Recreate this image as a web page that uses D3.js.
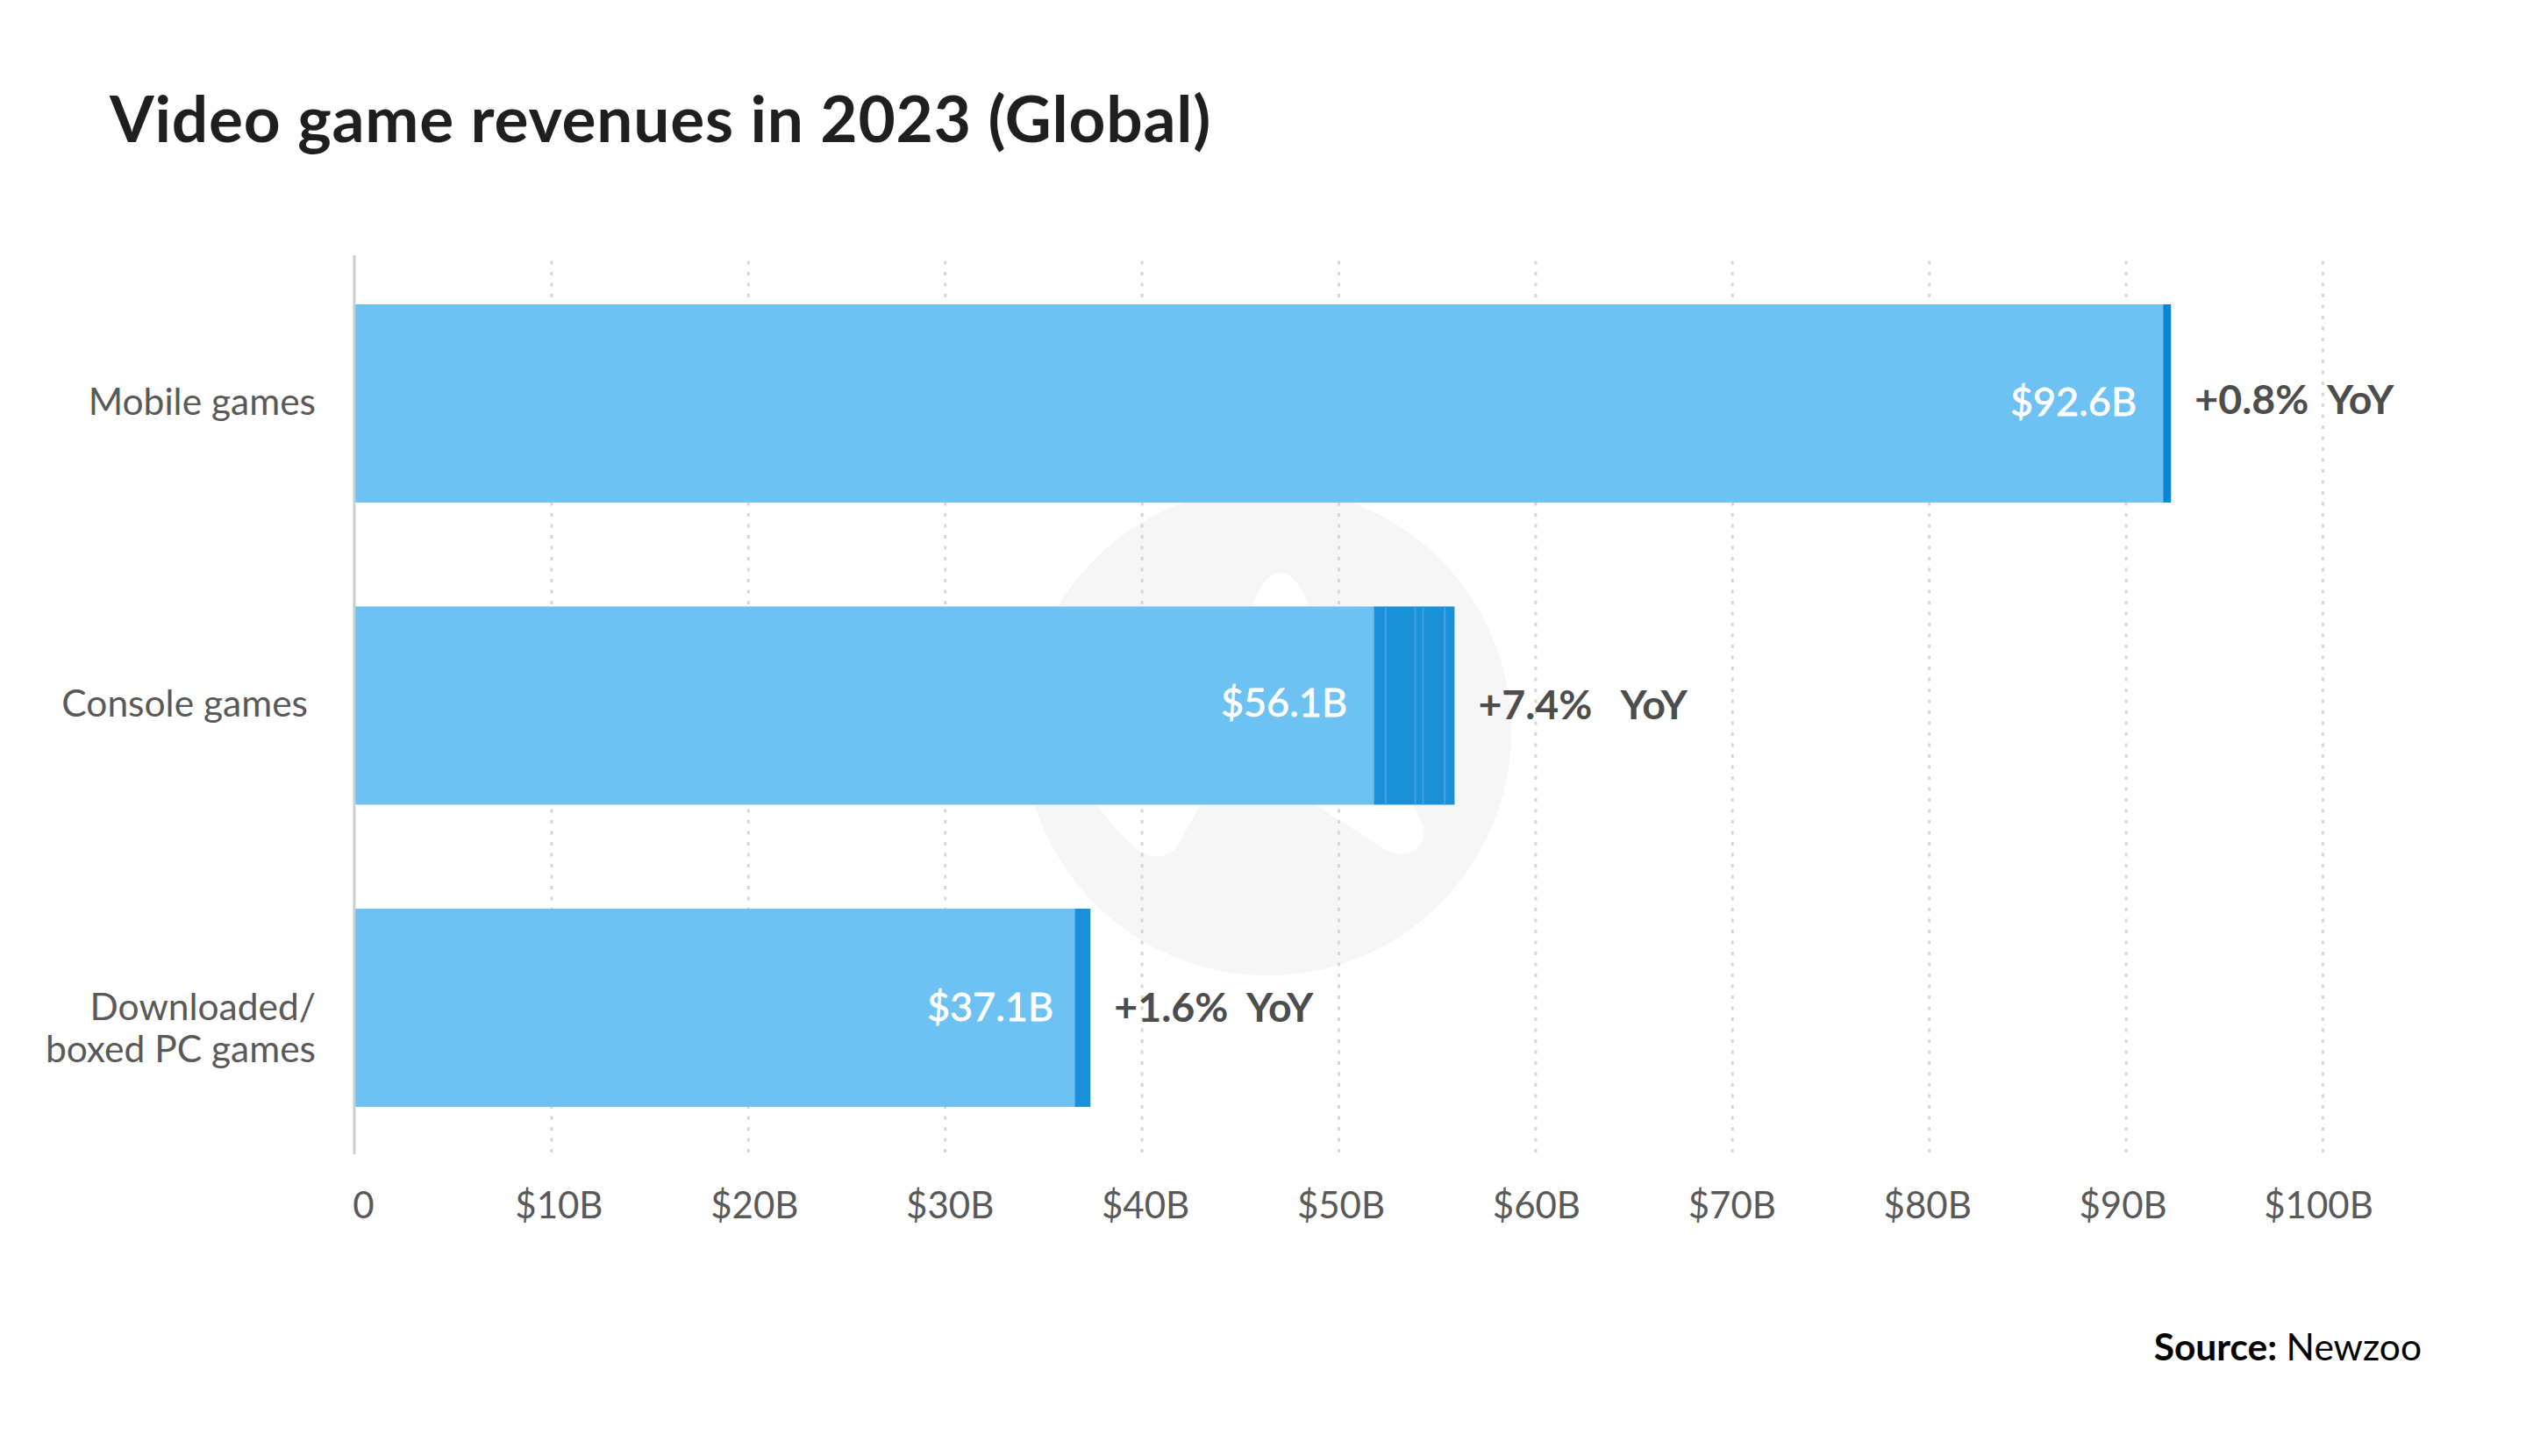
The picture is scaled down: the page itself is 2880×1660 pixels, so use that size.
<!DOCTYPE html>
<html>
<head>
<meta charset="utf-8">
<title>Video game revenues in 2023 (Global)</title>
<script src="https://cdn.jsdelivr.net/npm/d3@7"></script>
<style>
  body { margin: 0; background: #fff; }
  text { font-family: Lato, "Open Sans", sans-serif; white-space: pre; }
</style>
</head>
<body>
<svg id="chart" width="2880" height="1660"></svg>
<script>
var categories = ["Mobile games", "Console games", "Downloaded/\nboxed PC games"];
var prevValues = [91.9, 51.8, 36.6];
var endValues = [92.3, 55.9, 37.4];
var valueLabels = ["$92.6B", "$56.1B", "$37.1B"];
var yoyLabels = ["+0.8%  YoY", "+7.4%   YoY", "+1.6%  YoY"];
var consoleDividers = [52.4, 53.9, 54.3, 55.4];
var tickValues = [0, 10, 20, 30, 40, 50, 60, 70, 80, 90, 100];
var tickLabels = ["0", "$10B", "$20B", "$30B", "$40B", "$50B", "$60B", "$70B", "$80B", "$90B", "$100B"];

var svg = d3.select("#chart");
svg.append("rect").attr("width", 2880).attr("height", 1660).attr("fill", "#fff");

var x = d3.scaleLinear().domain([0, 100]).range([404, 2648]);
// the tick labels in the picture drift a little from the gridlines
var xLabels = d3.scaleLinear().domain([0, 100]).range([414, 2643]);
var y = d3.scaleBand().domain(categories).range([287.7, 1321.2]).paddingInner(0.344).paddingOuter(0.172);

var axisTop = 291, axisBottom = 1316;

// watermark behind the chart
var mark = svg.append("g");
mark.append("circle").attr("cx", 1445).attr("cy", 834).attr("r", 278).attr("fill", "#f6f6f6");
mark.append("path")
  .attr("fill", "#fff")
  .attr("d", "M1424,700 C1436,668 1446,653 1459,653 C1474,653 1484,668 1496,700 L1496,915 L1578,968 C1606,984 1630,965 1622,940 L1610,915 L1370,915 L1345,960 C1335,980 1312,980 1296,968 C1280,955 1264,936 1248,915 Z");

// gridlines
svg.append("g")
  .attr("transform", "translate(0," + (axisBottom - 2) + ")")
  .call(d3.axisBottom(x).tickValues(tickValues.slice(1)).tickSize(-(axisBottom - 2 - axisTop)).tickFormat(""))
  .call(function(g) { g.select(".domain").remove(); })
  .selectAll("line")
  .attr("stroke", "#d6d6d6")
  .attr("stroke-width", 3)
  .attr("stroke-dasharray", "4 8.5");

// bars
var bars = svg.append("g");
categories.forEach(function(cat, i) {
  bars.append("rect")
    .attr("x", x(0)).attr("y", y(cat))
    .attr("width", x(prevValues[i]) - x(0)).attr("height", y.bandwidth())
    .attr("fill", "#6dc2f3");
  bars.append("rect")
    .attr("x", x(prevValues[i])).attr("y", y(cat))
    .attr("width", x(endValues[i]) - x(prevValues[i])).attr("height", y.bandwidth())
    .attr("fill", i == 0 ? "#0a86d6" : "#1a90d9");
});

// thin lighter lines inside the console increment
bars.selectAll(".divider")
  .data(consoleDividers)
  .enter().append("line")
  .attr("class", "divider")
  .attr("x1", function(d) { return x(d); })
  .attr("x2", function(d) { return x(d); })
  .attr("y1", y(categories[1]))
  .attr("y2", y(categories[1]) + y.bandwidth())
  .attr("stroke", "#3ea4e4")
  .attr("stroke-width", 2);

// y axis line
svg.append("line")
  .attr("x1", x(0)).attr("x2", x(0))
  .attr("y1", axisTop).attr("y2", axisBottom)
  .attr("stroke", "#c9cdcd").attr("stroke-width", 3);

// x tick labels
svg.append("g")
  .attr("transform", "translate(0,1389)")
  .call(d3.axisBottom(xLabels).tickValues(tickValues).tickSize(0).tickPadding(0)
    .tickFormat(function(d, i) { return tickLabels[i]; }))
  .call(function(g) { g.select(".domain").remove(); })
  .selectAll("text")
  .attr("dy", 0).attr("y", 0)
  .attr("fill", "#595959").attr("text-anchor", "middle")
  .style("font-size", "42px").style("font-family", "Lato");

// category labels
var labelRight = [360, 351, 360];
var labelBase = [[473], [817], [1163, 1211]];
categories.forEach(function(cat, i) {
  cat.split("\n").forEach(function(line, j) {
    svg.append("text")
      .attr("x", labelRight[i])
      .attr("y", labelBase[i][j])
      .attr("text-anchor", "end")
      .attr("font-size", 42.5)
      .attr("fill", "#595959")
      .text(line);
  });
});

// value labels inside the bars
var valueRight = [2436, 1536, 1201];
var valueBase = [474, 817, 1164];
svg.selectAll(".value")
  .data(valueLabels)
  .enter().append("text")
  .attr("class", "value")
  .attr("x", function(d, i) { return valueRight[i]; })
  .attr("y", function(d, i) { return valueBase[i]; })
  .attr("text-anchor", "end")
  .attr("font-size", 45)
  .attr("fill", "#fff")
  .attr("stroke", "#fff")
  .attr("stroke-width", 0.8)
  .text(function(d) { return d; });

// yoy labels next to the bars
var yoyBase = [472, 820, 1165];
svg.selectAll(".yoy")
  .data(yoyLabels)
  .enter().append("text")
  .attr("class", "yoy")
  .attr("x", function(d, i) { return x(endValues[i]) + 27; })
  .attr("y", function(d, i) { return yoyBase[i]; })
  .attr("font-size", 46.5)
  .attr("font-weight", 700)
  .attr("fill", "#4d4d4d")
  .text(function(d) { return d; });

// title
svg.append("text")
  .attr("x", 125).attr("y", 162)
  .attr("font-size", 73).attr("font-weight", 700).attr("fill", "#1f1f1f")
  .attr("letter-spacing", 0.8)
  .text("Video game revenues in 2023 (Global)");

// source
var source = svg.append("text")
  .attr("x", 2761).attr("y", 1551)
  .attr("text-anchor", "end")
  .attr("font-size", 42.5).attr("fill", "#000");
source.append("tspan").attr("font-weight", 700).text("Source: ");
source.append("tspan").text("Newzoo");
</script>
</body>
</html>
